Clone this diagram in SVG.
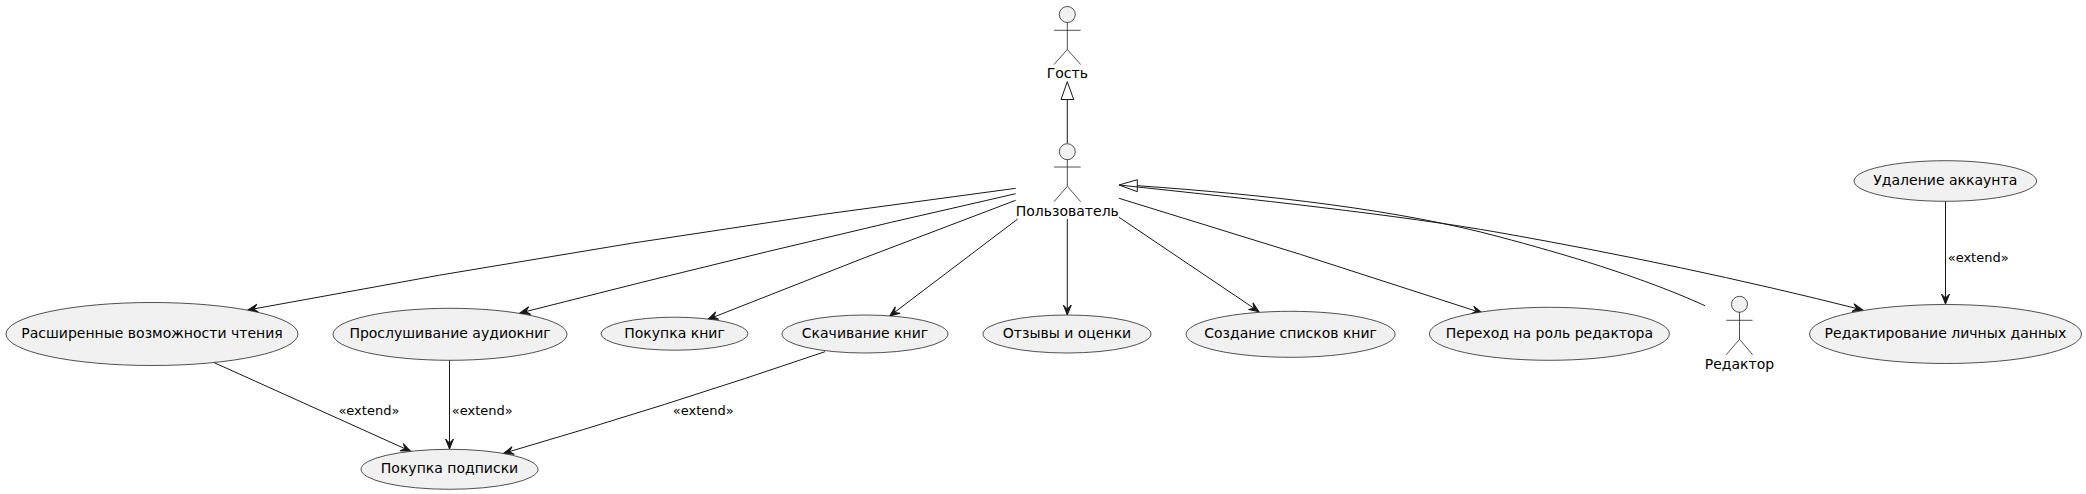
<svg xmlns="http://www.w3.org/2000/svg" width="2086" height="494" viewBox="0 0 2086 494">
<style>
text{font-family:"DejaVu Sans",sans-serif;font-size:14px;fill:#000}
.l{font-size:13px}
.m{text-anchor:middle}
ellipse{fill:#F1F1F1;stroke:#181818;stroke-width:.75}
.a circle{fill:#F1F1F1;stroke:#181818;stroke-width:.75}
.a path{fill:none;stroke:#181818;stroke-width:.75}
#connectors path{fill:none;stroke:#181818;stroke-width:1}
#connectors path.e{marker-end:url(#arrow)}
#connectors polygon{fill:none;stroke:#181818;stroke-width:1}
</style>
<defs>
<marker id="arrow" markerUnits="userSpaceOnUse" markerWidth="14" markerHeight="14" refX="10" refY="5" orient="auto" overflow="visible">
<path d="M10,5 L0,1 L4,5 L0,9 Z" fill="#181818" stroke="#181818" stroke-width="1"/>
</marker>
</defs>
<rect width="2086" height="494" fill="#fff"/>
<g id="connectors">
<path d="M1067.3,143.3 V99.5"/><polygon points="1067.3,81.7 1061,99.5 1073.7,99.5"/>
<path class="e" d="M1015.7,188.3 Q631.75,237.3 247.8,310"/>
<path class="e" d="M1015.7,193.7 Q767.85,249.7 520,313"/>
<path class="e" d="M1015.7,200.3 Q861.85,257.8 708,319.3"/>
<path class="e" d="M1017.7,219 L889.7,316"/>
<path class="e" d="M1067.3,219 V315"/>
<path class="e" d="M1119,217.3 L1259,311.7"/>
<path class="e" d="M1119,198.3 Q1300,253 1482,313"/>
<path d="M1705,305.7 C1640,276 1560,253 1500,237 C1400,210 1270,195 1137.3,185.7"/><polygon points="1119,185 1137.3,179.7 1137.3,191.7"/>
<path class="e" d="M1119,185 C1250,199 1400,215 1500,232.7 C1620,254 1740,279 1862.7,310"/>
<path class="e" d="M1945.5,201.3 V304"/>
<path class="e" d="M213.4,362.3 L410.7,451.3"/>
<path class="e" d="M449.5,360.3 V449"/>
<path class="e" d="M825,351.7 Q664.3,406.5 503.6,453.3"/>
</g>
<g class="labels">
<text class="l" x="338.4" y="415">«extend»</text>
<text class="l" x="451.8" y="415">«extend»</text>
<text class="l" x="672.8" y="415">«extend»</text>
<text class="l" x="1947.7" y="261.7">«extend»</text>
</g>
<g id="guest" class="a"><circle cx="1067.3" cy="14.5" r="8"/><path d="M1067.3,22.5 V49.5 M1054,30.3 H1080.7 M1067.3,49.5 L1054,64.5 M1067.3,49.5 L1080.7,64.5"/><text class="m" x="1067.3" y="78">Гость</text></g>
<g id="user" class="a"><circle cx="1067.3" cy="151.7" r="8"/><path d="M1067.3,159.7 V186.3 M1054,167 H1080.7 M1067.3,186.3 L1054,201.7 M1067.3,186.3 L1080.7,201.7"/><text class="m" x="1067.3" y="216">Пользователь</text></g>
<g id="editor" class="a"><circle cx="1739.5" cy="304.3" r="8"/><path d="M1739.5,312.3 V339.3 M1726.3,320.3 H1752.6 M1739.5,339.3 L1726.3,354.7 M1739.5,339.3 L1752.6,354.7"/><text class="m" x="1739.5" y="368.7">Редактор</text></g>
<g id="uc1"><ellipse cx="152" cy="334" rx="146" ry="31.5"/><text class="m" x="152" y="337.5">Расширенные возможности чтения</text></g>
<g id="uc2"><ellipse cx="450" cy="334.3" rx="117" ry="26"/><text class="m" x="450" y="337.5">Прослушивание аудиокниг</text></g>
<g id="uc3"><ellipse cx="674.5" cy="333.7" rx="73.5" ry="16.5"/><text class="m" x="674.5" y="338">Покупка книг</text></g>
<g id="uc4"><ellipse cx="865" cy="334" rx="83" ry="19"/><text class="m" x="865" y="337.5">Скачивание книг</text></g>
<g id="uc5"><ellipse cx="1067" cy="334" rx="84" ry="19"/><text class="m" x="1067" y="337.5">Отзывы и оценки</text></g>
<g id="uc6"><ellipse cx="1290.6" cy="334.3" rx="104.5" ry="23"/><text class="m" x="1290.6" y="337.5">Создание списков книг</text></g>
<g id="uc7"><ellipse cx="1549.4" cy="333.8" rx="120" ry="26.5"/><text class="m" x="1549.4" y="338">Переход на роль редактора</text></g>
<g id="uc8"><ellipse cx="1945.5" cy="334" rx="136" ry="29.5"/><text class="m" x="1945.5" y="338">Редактирование личных данных</text></g>
<g id="uc9"><ellipse cx="1945.3" cy="181" rx="91.3" ry="20.3"/><text class="m" x="1945.3" y="184.5">Удаление аккаунта</text></g>
<g id="uc10"><ellipse cx="449.5" cy="469.3" rx="88.5" ry="20"/><text class="m" x="449.5" y="472.5">Покупка подписки</text></g>
</svg>
